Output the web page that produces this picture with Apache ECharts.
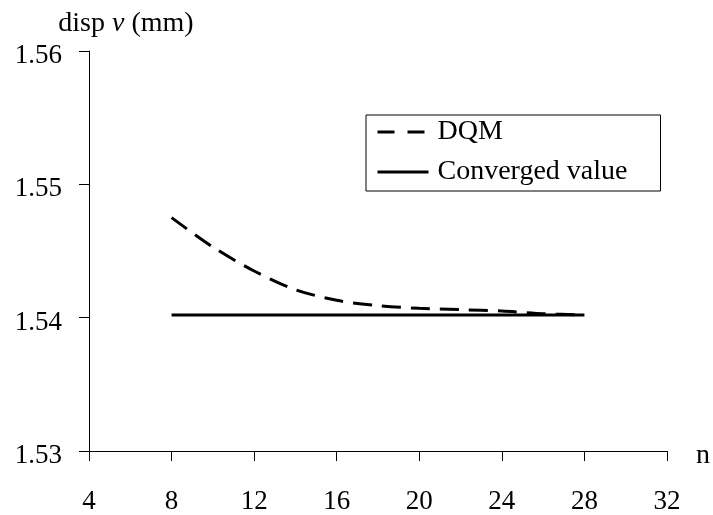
<!DOCTYPE html>
<html>
<head>
<meta charset="utf-8">
<script src="https://cdn.jsdelivr.net/npm/echarts@6/dist/echarts.min.js"></script>
<style>
  html, body { margin: 0; padding: 0; background: #fff; }
  #chart { width: 713px; height: 515px; }
</style>
</head>
<body>
<div id="chart"></div>
<script>
// Number of grid points n and the mid-span displacement v (mm)
const nValues = [8, 10, 12, 14, 16, 18, 20, 22, 24, 26, 28];
const dqmDisp = [1.5475, 1.5453, 1.5435, 1.5421, 1.5413, 1.5409, 1.5407, 1.5406, 1.5405, 1.5403, 1.5402];
const convergedDisp = [1.5402, 1.5402, 1.5402, 1.5402, 1.5402, 1.5402, 1.5402, 1.5402, 1.5402, 1.5402, 1.5402];
const seriesNames = ['DQM', 'Converged value'];

const FONT = '"Liberation Serif", "Times New Roman", serif';
const toPairs = (ys) => nValues.map((n, i) => [n, ys[i]]);

const chart = echarts.init(document.getElementById('chart'), null, { renderer: 'canvas' });
chart.setOption({
  animation: false,
  backgroundColor: '#fff',
  color: ['#000', '#000'],
  textStyle: { fontFamily: FONT, color: '#000' },
  grid: { left: 89, right: 45, top: 51, bottom: 64, containLabel: false },
  legend: {
    orient: 'vertical',
    left: 366,
    top: 115,
    padding: [3, 33, 5, 10],
    itemGap: 12,
    itemWidth: 51,
    itemHeight: 14,
    borderColor: '#000',
    borderWidth: 1,
    textStyle: { fontFamily: FONT, fontSize: 28, color: '#000', padding: [0, 0, 0, 4] },
    data: [
      { name: seriesNames[0], itemStyle: { opacity: 0 }, lineStyle: { type: [17, 13], width: 3, color: '#000', opacity: 1 } },
      { name: seriesNames[1], itemStyle: { opacity: 0 }, lineStyle: { type: 'solid', width: 3, color: '#000', opacity: 1 } }
    ]
  },
  xAxis: {
    type: 'value',
    min: 4, max: 32, interval: 4,
    name: 'n',
    nameLocation: 'end',
    nameGap: 29,
    nameTextStyle: { fontFamily: FONT, fontSize: 28, color: '#000', verticalAlign: 'top', lineHeight: 10 },
    axisLine: { show: true, onZero: false, lineStyle: { color: '#000', width: 1 } },
    axisTick: { show: true, inside: false, length: 10, lineStyle: { color: '#000', width: 1 } },
    axisLabel: { margin: 37, fontFamily: FONT, fontSize: 27, color: '#000' },
    splitLine: { show: false }
  },
  yAxis: {
    type: 'value',
    min: 1.53, max: 1.56, interval: 0.01,
    name: 'disp {i|v} (mm)',
    nameLocation: 'end',
    nameGap: 13,
    nameTextStyle: {
      fontFamily: FONT, fontSize: 28, color: '#000',
      align: 'center', padding: [0, 0, 0, 74],
      rich: { i: { fontFamily: FONT, fontSize: 28, fontStyle: 'italic', color: '#000' } }
    },
    axisLine: { show: true, lineStyle: { color: '#000', width: 1 } },
    axisTick: { show: true, inside: false, length: 10, lineStyle: { color: '#000', width: 1 } },
    axisLabel: {
      margin: 27, fontFamily: FONT, fontSize: 27, color: '#000',
      verticalAlign: 'top', lineHeight: 10,
      formatter: (v) => v.toFixed(2)
    },
    splitLine: { show: false }
  },
  series: [
    {
      name: seriesNames[0],
      type: 'line',
      data: toPairs(dqmDisp),
      showSymbol: false,
      symbol: 'none',
      smooth: 0.3,
      itemStyle: { color: '#000' },
      lineStyle: { color: '#000', width: 3, type: [19, 10] },
      z: 3
    },
    {
      name: seriesNames[1],
      type: 'line',
      data: toPairs(convergedDisp),
      showSymbol: false,
      symbol: 'none',
      itemStyle: { color: '#000' },
      lineStyle: { color: '#000', width: 3, type: 'solid' },
      z: 2
    }
  ]
});
</script>
</body>
</html>
